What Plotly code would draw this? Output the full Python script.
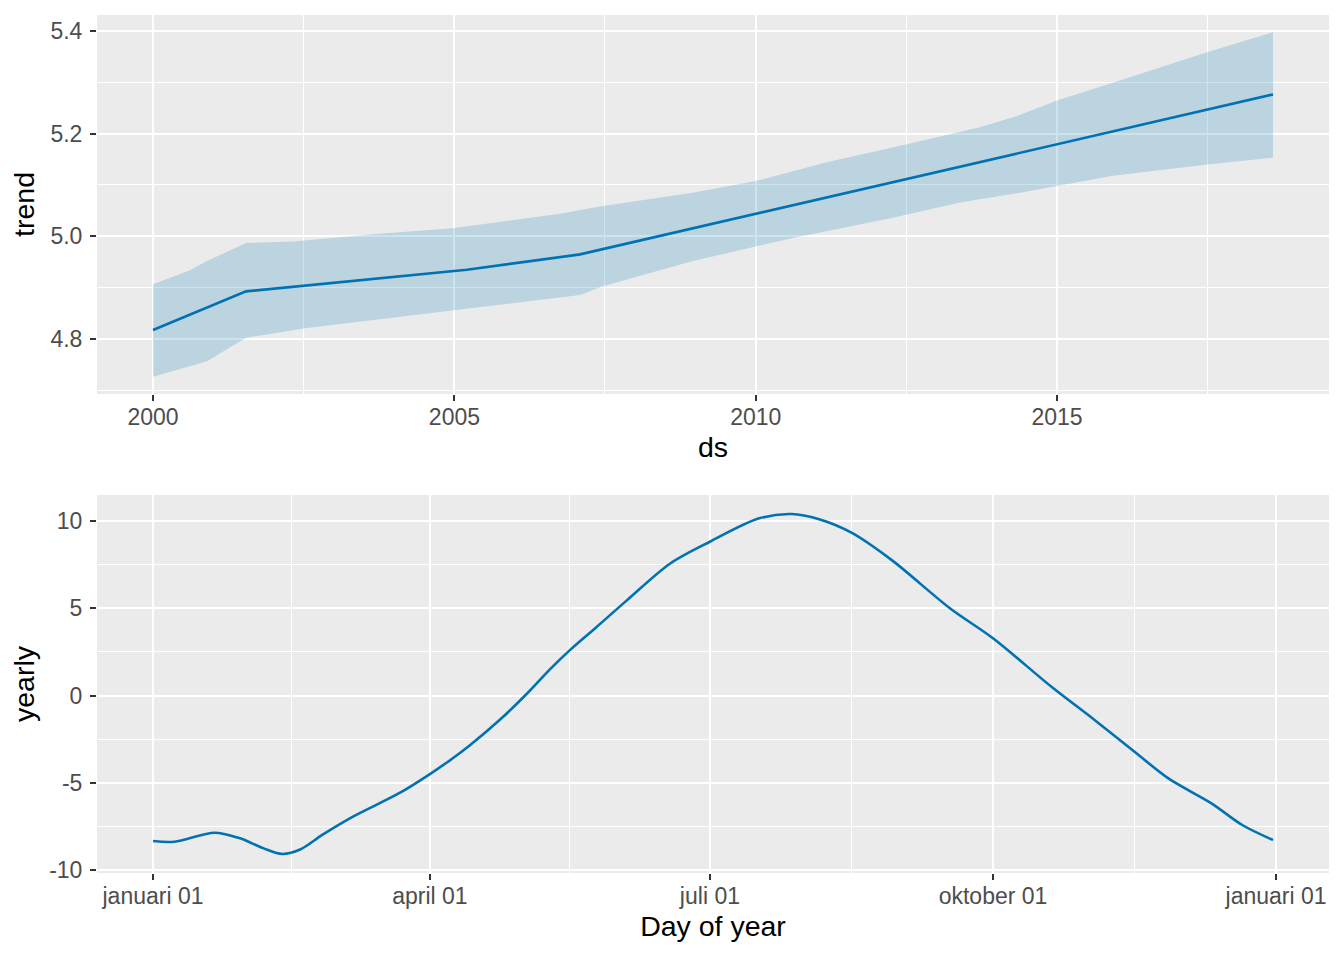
import pandas as pd
import plotly.graph_objects as go
from plotly.subplots import make_subplots

# ---- trend panel data ----
trend_dates = ["2000-01-01", "2001-07-18", "2005-03-17", "2007-02-01", "2018-08-02"]
trend_vals = [4.818, 4.893, 4.935, 4.965, 5.276]

upper_dates = ["2000-01-01", "2000-08-12", "2000-11-23", "2001-07-18", "2002-04-29",
               "2003-08-26", "2004-12-23", "2006-10-03", "2007-06-19", "2008-12-16",
               "2010-01-08", "2011-03-07", "2012-07-05", "2013-09-21", "2014-05-04",
               "2015-01-01", "2016-01-17", "2017-06-28", "2018-08-02"]
upper_vals = [4.907, 4.934, 4.952, 4.987, 4.990, 5.004, 5.016, 5.044, 5.059, 5.085,
              5.108, 5.144, 5.179, 5.212, 5.234, 5.264, 5.303, 5.358, 5.397]

lower_dates = ["2000-01-01", "2000-11-23", "2001-07-18", "2002-07-22", "2004-07-19",
               "2005-11-15", "2007-02-01", "2007-06-19", "2008-12-16", "2010-08-14",
               "2012-04-11", "2013-05-23", "2014-05-22", "2015-12-05", "2017-06-28",
               "2018-08-02"]
lower_vals = [4.727, 4.757, 4.803, 4.822, 4.851, 4.869, 4.886, 4.903, 4.952, 4.997,
              5.036, 5.066, 5.085, 5.118, 5.140, 5.153]

trend_ticks = [4.8, 5.0, 5.2, 5.4]
trend_tick_labels = ["4.8", "5.0", "5.2", "5.4"]
trend_minor = [4.7, 4.9, 5.1, 5.3]

# ---- yearly panel data ----
year_start = "2017-01-01"
yearly_days = [0, 7, 20, 28, 36, 42, 48, 55, 65, 80, 90, 97, 103, 113, 121.5, 129,
               135.5, 144, 154, 168, 181, 197, 207.5, 216.5, 227, 240, 259, 273,
               292, 306, 319, 330, 344, 354, 364]
yearly_vals = [-8.34, -8.38, -7.86, -8.17, -8.76, -9.08, -8.81, -7.99, -6.94, -5.60,
               -4.50, -3.65, -2.85, -1.35, 0.10, 1.50, 2.60, 3.90, 5.45, 7.55,
               8.81, 10.15, 10.40, 10.10, 9.33, 7.77, 5.00, 3.28, 0.50, -1.40,
               -3.22, -4.75, -6.18, -7.42, -8.28]

yearly_ticks = [-10, -5, 0, 5, 10]
yearly_tick_labels = ["-10", "-5", "0", "5", "10"]
yearly_minor = [-7.5, -2.5, 2.5, 7.5]

month_tick_dates = ["2017-01-01", "2017-04-01", "2017-07-01", "2017-10-01", "2018-01-01"]
month_tick_labels = ["januari 01", "april 01", "juli 01", "oktober 01", "januari 01"]

LINE = "#0072B2"
FILL = "rgba(0,114,178,0.2)"
PANEL = "#EBEBEB"
FONT = "Liberation Sans"

fig = make_subplots(rows=2, cols=1, shared_xaxes=False, vertical_spacing=0.12)

# ribbon
rib_x = list(pd.to_datetime(upper_dates)) + list(pd.to_datetime(lower_dates))[::-1]
rib_y = upper_vals + lower_vals[::-1]
fig.add_trace(go.Scatter(x=rib_x, y=rib_y, fill="toself", fillcolor=FILL,
                         line=dict(width=0), mode="lines", hoverinfo="skip",
                         showlegend=False), row=1, col=1)
fig.add_trace(go.Scatter(x=pd.to_datetime(trend_dates), y=trend_vals, mode="lines",
                         line=dict(color=LINE, width=2.6), showlegend=False),
              row=1, col=1)

ydates = pd.Timestamp(year_start) + pd.to_timedelta(yearly_days, unit="D")
fig.add_trace(go.Scatter(x=ydates, y=yearly_vals, mode="lines",
                         line=dict(color=LINE, width=2.6, shape="spline", smoothing=0.9),
                         showlegend=False), row=2, col=1)

# ranges (ggplot 5% expansion)
def expand(lo, hi, f=0.05):
    d = (hi - lo) * f
    return lo - d, hi + d

t_all = pd.to_datetime(upper_dates + lower_dates + trend_dates)
tlo, thi = t_all.min(), t_all.max()
span = thi - tlo
x1_range = [tlo - span * 0.05, thi + span * 0.05]
y1_range = list(expand(min(lower_vals), max(upper_vals)))

ylo, yhi = ydates.min(), ydates.max()
yspan = yhi - ylo
x2_range = [ylo - yspan * 0.05, yhi + yspan * 0.05]
y2_range = [-10.17, 11.49]

mt = pd.to_datetime(month_tick_dates)
month_minor = [mt[i] + (mt[i + 1] - mt[i]) / 2 for i in range(len(mt) - 1)]

axis_common = dict(
    showgrid=True, gridcolor="white", gridwidth=2.2,
    zeroline=False, showline=False,
    ticks="outside", ticklen=6, tickwidth=2, tickcolor="#333333",
    tickfont=dict(family=FONT, size=23, color="#4D4D4D"),
    title_font=dict(family=FONT, size=28.5, color="black"),
)

fig.update_xaxes(**axis_common, ticklabelstandoff=-4)
fig.update_yaxes(**axis_common, ticklabelstandoff=3)

fig.update_xaxes(row=1, col=1, type="date", range=x1_range, dtick="M60",
                 tick0="2000-01-01", tickformat="%Y",
                 minor=dict(showgrid=True, gridcolor="white", gridwidth=1.1,
                            dtick="M30", tick0="2000-01-01", ticks=""),
                 title_text="ds", title_standoff=8)
fig.update_yaxes(row=1, col=1, range=y1_range, tickmode="array",
                 tickvals=trend_ticks, ticktext=trend_tick_labels,
                 minor=dict(showgrid=True, gridcolor="white", gridwidth=1.1,
                            tickmode="array", tickvals=trend_minor, ticks=""),
                 title_text="trend", title_standoff=8)

fig.update_xaxes(row=2, col=1, type="date", range=x2_range, tickmode="array",
                 tickvals=mt, ticktext=month_tick_labels,
                 minor=dict(showgrid=True, gridcolor="white", gridwidth=1.1,
                            tickmode="array", tickvals=month_minor, ticks=""),
                 title_text="Day of year", title_standoff=8)
fig.update_yaxes(row=2, col=1, range=y2_range, tickmode="array",
                 tickvals=yearly_ticks, ticktext=yearly_tick_labels,
                 minor=dict(showgrid=True, gridcolor="white", gridwidth=1.1,
                            tickmode="array", tickvals=yearly_minor, ticks=""),
                 title_text="yearly", title_standoff=8)

fig.update_layout(
    width=1328, height=944,
    margin=dict(l=89, r=7, t=7, b=79, autoexpand=False),
    paper_bgcolor="white", plot_bgcolor=PANEL,
    font=dict(family=FONT),
    showlegend=False,
    xaxis=dict(domain=[0, 1]), xaxis2=dict(domain=[0, 1]),
    yaxis=dict(domain=[0.5583, 1.0]), yaxis2=dict(domain=[0.0, 0.4406]),
)

fig.write_html("out.html")
